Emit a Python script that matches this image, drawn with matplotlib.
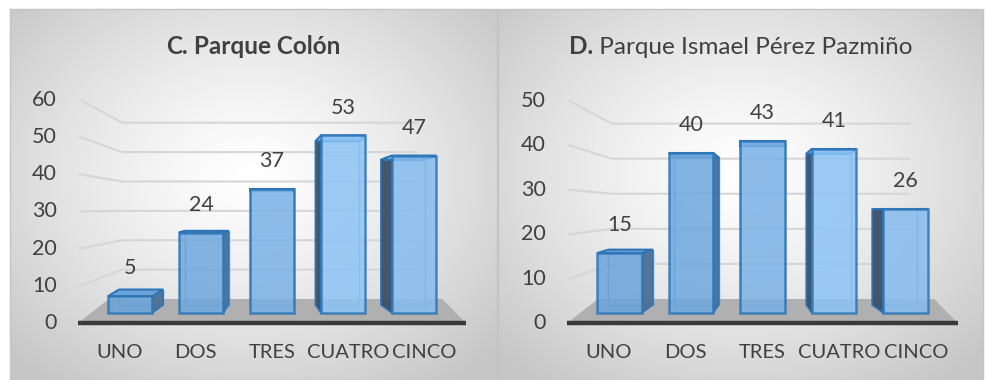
import numpy as np
import matplotlib
matplotlib.use("agg")
import matplotlib.pyplot as plt
from matplotlib.patches import Polygon

categorias = ["UNO", "DOS", "TRES", "CUATRO", "CINCO"]
colon = [5, 24, 37, 53, 47]
pazmino = [15, 40, 43, 41, 26]
ticks_colon = [0, 10, 20, 30, 40, 50, 60]
ticks_pazmino = [0, 10, 20, 30, 40, 50]

W, H = 986, 380
TXT = "#404040"
FONT = "Lato"
plt.rcParams["font.family"] = [FONT, "DejaVu Sans"]

fig = plt.figure(figsize=(W / 100, H / 100), dpi=100)

# background: two panels with a soft radial gradient
bg = fig.add_axes([0, 0, 1, 1])
bg.set_xlim(0, W)
bg.set_ylim(H, 0)
bg.axis("off")


def panel_background(x0, y0, x1, y1, cx, cy):
    xs = np.linspace(x0, x1, 300)
    ys = np.linspace(y0, y1, 200)
    gx, gy = np.meshgrid(xs, ys)
    r = np.sqrt(((gx - cx) / 330.0) ** 2 + ((gy - cy) / 260.0) ** 2)
    val = 1.0 - 0.22 * np.clip(r, 0, 1) ** 1.3
    img = np.dstack([val, val, val])
    bg.imshow(img, extent=(x0, x1, y1, y0), aspect="auto", zorder=0)
    bg.plot([x0, x1, x1, x0, x0], [y0, y0, y1, y1, y0], color="#c4c4c4", lw=1, zorder=1)


panel_background(10, 9, 497, 380, 250, 175)
panel_background(498, 9, 983, 380, 740, 175)

front_cols = ["#6aa3da", "#6ea7dd", "#79b1e6", "#8cc3f4", "#85bcef"]
edge_col = "#2e75b6"


def chart(rect, x0, dx, k, valores, ticks, negrita, resto, resto_peso):
    L, T, R, B = rect
    base = 313.0
    ax = fig.add_axes([L / W, 1 - B / H, (R - L) / W, (B - T) / H])
    ax.set_xlim((L - x0) / dx, (R - x0) / dx)
    ax.set_ylim((base - B) / k, (base - T) / k)
    ax.axis("off")
    ax.patch.set_alpha(0)

    def py(p):
        # screen row (pixels) -> value units of this axes
        return (base - p) / k

    # floor, walls and grid are drawn on planes in front of / behind the bars
    yf = py(323)
    yb = py(299)
    floor = Polygon([(-0.73, yf), (4.73, yf), (4.4, yb), (-0.3, yb)],
                    closed=True, fc="#b0b0b0", ec="none", zorder=1)
    ax.add_patch(floor)
    ax.plot([-0.73, 4.73], [yf, yf], color="#3a3a3a", lw=3.2, zorder=2,
            solid_capstyle="butt")

    for v in ticks:
        vf = yf + 1.11 * v
        vb = yb + 0.877 * v
        if v > 0:
            ax.plot([-0.70, -0.11, 4.05], [vf, vb, vb], color="#d6d6d6", lw=1.5,
                    zorder=1.5)
        ax.text(-1.03, vf, str(v), ha="right", va="center", fontsize=15.5,
                color=TXT)

    # 3D-looking columns
    w = 0.62
    t = 0.078
    vvp = py(210)
    idx = np.arange(len(valores))
    for i, v in enumerate(valores):
        xl, xr = i - w / 2, i + w / 2
        sx = t * (2 - i)

        def back(x, y):
            return (x + sx, y + t * (vvp - y))

        bl, br = back(xl, 0), back(xr, 0)
        tl, tr = back(xl, v), back(xr, v)
        ax.plot([bl[0], br[0], tr[0], tl[0], bl[0]],
                [bl[1], br[1], tr[1], tl[1], bl[1]],
                color="#4a8ccc", lw=1, zorder=3, alpha=0.8)
        if i < 2:
            side = [(xr, 0), br, tr, (xr, v)]
            ax.add_patch(Polygon(side, closed=True, fc="#4d6f94", ec=edge_col,
                                 lw=1.2, alpha=0.95, zorder=4))
        elif i > 2:
            side = [(xl, 0), bl, tl, (xl, v)]
            ax.add_patch(Polygon(side, closed=True, fc="#3a5068", ec=edge_col,
                                 lw=1.2, alpha=0.95, zorder=4))
        top = [(xl, v), (xr, v), tr, tl]
        ax.add_patch(Polygon(top, closed=True, fc=front_cols[i], ec=edge_col,
                             lw=1.5, zorder=4.5))

    ax.bar(idx, valores, width=w, color=front_cols, alpha=0.85,
           edgecolor=edge_col, linewidth=1.8, zorder=5)

    for i, v in enumerate(valores):
        ax.annotate(str(v), (i, v), xytext=(0, 20), textcoords="offset points",
                    ha="center", va="center", fontsize=15.5, color=TXT, zorder=6)

    for i, c in enumerate(categorias):
        ax.text(2 + 1.075 * (i - 2), py(352), c, ha="center", va="center",
                fontsize=14.5, color=TXT)

    # title: bold letter followed by the park name
    tx = (L + R) / 2
    t1 = ax.text(0, 0, negrita, fontsize=17.5, fontweight="bold", color=TXT)
    t2 = ax.text(0, 0, resto, fontsize=17.5, fontweight=resto_peso, color=TXT)
    fig.canvas.draw()
    r = fig.canvas.get_renderer()
    w1 = t1.get_window_extent(r).width
    w2 = t2.get_window_extent(r).width
    start = tx - (w1 + w2) / 2
    t1.set_position(((start - x0) / dx, py(47)))
    t2.set_position(((start + w1 - x0) / dx, py(47)))
    for tt in (t1, t2):
        tt.set_va("center")
        tt.set_ha("left")
    return ax


chart((10, 9, 497, 380), 130.0, 71.0, 3.35, colon, ticks_colon,
      "C.", " Parque Colón", "bold")
chart((498, 9, 983, 380), 619.5, 71.5, 4.0, pazmino, ticks_pazmino,
      "D.", " Parque Ismael Pérez Pazmiño", "normal")

fig.savefig("out.png", dpi=100)
